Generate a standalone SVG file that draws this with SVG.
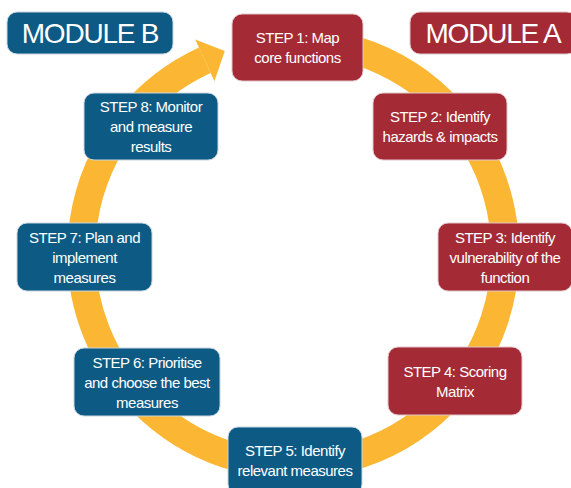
<svg xmlns="http://www.w3.org/2000/svg" width="571" height="488" viewBox="0 0 571 488">
<style>
.blue{fill:#0D5B84;stroke:#c8d5de;stroke-width:1}
.red{fill:#A42B36;stroke:#e2c6c9;stroke-width:1}
.t{font-family:"Liberation Sans",Arial,sans-serif;font-size:15px;fill:#ffffff;text-anchor:middle;letter-spacing:-0.5px}
.m{font-family:"Liberation Sans",Arial,sans-serif;font-size:28px;fill:#ffffff;text-anchor:middle;letter-spacing:-1.2px}
</style>
<rect width="571" height="488" fill="#ffffff"/>
<g id="connectors">
<path d="M 274.5 41.8 A 212 212 0 1 1 204.8 60.3" fill="none" stroke="#FBB733" stroke-width="28"/>
<polygon points="195.2,39.4 224.8,51.1 214.4,81.2" fill="#FBB733"/>
</g>
<g id="moduleB"><rect class="blue" x="7" y="12" width="166" height="42" rx="10"/><text class="m" x="90" y="43">MODULE B</text></g>
<g id="moduleA"><rect class="red" x="410" y="12" width="167" height="42" rx="10"/><text class="m" x="493" y="43">MODULE A</text></g>
<g id="step1"><rect class="red" x="232" y="14" width="131" height="67" rx="10"/><text class="t" x="297.5" y="43">STEP 1: Map</text><text class="t" x="297.5" y="63">core functions</text></g>
<g id="step2"><rect class="red" x="373" y="93" width="134" height="67" rx="10"/><text class="t" x="440" y="122">STEP 2: Identify</text><text class="t" x="440" y="142">hazards &amp; impacts</text></g>
<g id="step3"><rect class="red" x="438" y="223" width="134" height="68" rx="10"/><text class="t" x="505" y="242.5">STEP 3: Identify</text><text class="t" x="505" y="262.5">vulnerability of the</text><text class="t" x="505" y="282.5">function</text></g>
<g id="step4"><rect class="red" x="388" y="347" width="134" height="68" rx="10"/><text class="t" x="455" y="377">STEP 4: Scoring</text><text class="t" x="455" y="397">Matrix</text></g>
<g id="step5"><rect class="blue" x="228" y="427" width="134" height="67" rx="10"/><text class="t" x="295" y="456">STEP 5: Identify</text><text class="t" x="295" y="476">relevant measures</text></g>
<g id="step6"><rect class="blue" x="74" y="348" width="146" height="68" rx="10"/><text class="t" x="147" y="367.5">STEP 6: Prioritise</text><text class="t" x="147" y="387.5">and choose the best</text><text class="t" x="147" y="407.5">measures</text></g>
<g id="step7"><rect class="blue" x="17" y="223" width="135" height="68" rx="10"/><text class="t" x="84.5" y="242.5">STEP 7: Plan and</text><text class="t" x="84.5" y="262.5">implement</text><text class="t" x="84.5" y="282.5">measures</text></g>
<g id="step8"><rect class="blue" x="84" y="93" width="134" height="67" rx="10"/><text class="t" x="151" y="112">STEP 8: Monitor</text><text class="t" x="151" y="132">and measure</text><text class="t" x="151" y="152">results</text></g>
</svg>
